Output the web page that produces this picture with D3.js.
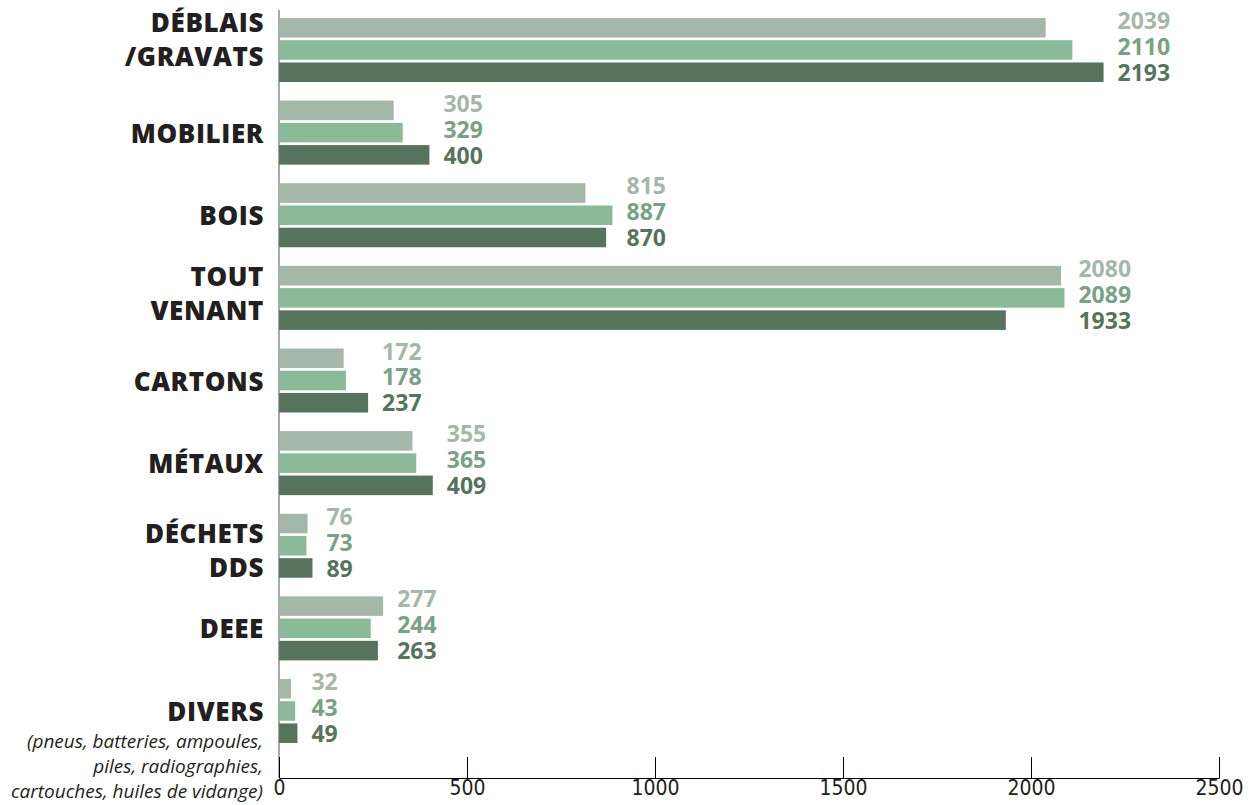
<!DOCTYPE html>
<html>
<head>
<meta charset="utf-8">
<script src="https://cdn.jsdelivr.net/npm/d3@7"></script>
<style>
  html, body { margin: 0; padding: 0; background: #fff; }
  svg { display: block; }
</style>
</head>
<body>
<svg id="chart" width="1253" height="805"></svg>
<script>
// ---- data ----
const categoryLines = [
  ["DÉBLAIS", "/GRAVATS"],
  ["MOBILIER"],
  ["BOIS"],
  ["TOUT", "VENANT"],
  ["CARTONS"],
  ["MÉTAUX"],
  ["DÉCHETS", "DDS"],
  ["DEEE"],
  ["DIVERS"]
];
const series1 = [2039, 305, 815, 2080, 172, 355, 76, 277, 32];
const series2 = [2110, 329, 887, 2089, 178, 365, 73, 244, 43];
const series3 = [2193, 400, 870, 1933, 237, 409, 89, 263, 49];
const tickValues = [0, 500, 1000, 1500, 2000, 2500];
const diversNote = ["(pneus, batteries, ampoules,", "piles, radiographies,", "cartouches, huiles de vidange)"];

// ---- styles / layout ----
const barColors = ["#a4b8aa", "#8aba97", "#56745c"];
const labelColors = ["#a4b8aa", "#78a286", "#56745c"];
const textColor = "#231f20";
const twoLineShift = { 0: -6, 3: 0, 6: 9 };

const svg = d3.select("#chart");
const seriesList = [series1, series2, series3];
const idx = d3.range(categoryLines.length);

const x = d3.scaleLinear().domain([0, 2500]).range([279, 1219]);
const y = d3.scaleBand().domain(idx).range([18, 743]).paddingInner(0.225).paddingOuter(0);
const ySub = d3.scaleBand().domain([0, 1, 2]).range([0, y.bandwidth()]).paddingInner(0.12);

// y axis line (grey)
svg.append("line")
  .attr("x1", x(0)).attr("x2", x(0))
  .attr("y1", 10).attr("y2", 778)
  .attr("stroke", "#8c8c8c").attr("stroke-width", 1.5);

// bars
const groups = svg.append("g").selectAll("g")
  .data(idx).join("g")
  .attr("transform", i => `translate(0,${y(i)})`);

groups.selectAll("rect")
  .data(i => seriesList.map((s, k) => ({ k, v: s[i] })))
  .join("rect")
  .attr("x", x(0))
  .attr("y", d => ySub(d.k))
  .attr("width", d => x(d.v) - x(0))
  .attr("height", ySub.bandwidth())
  .attr("fill", d => barColors[d.k]);

// value labels
const labelOffsets = [-30, -4, 22];
groups.each(function (i) {
  const g = d3.select(this);
  const maxV = d3.max(seriesList, s => s[i]);
  const cy = y.bandwidth() / 2;
  seriesList.forEach((s, k) => {
    g.append("text")
      .attr("x", x(maxV) + 14)
      .attr("y", cy + labelOffsets[k])
      .attr("dominant-baseline", "central")
      .attr("font-family", "'Open Sans', sans-serif")
      .attr("font-weight", 700)
      .attr("font-size", 23)
      .attr("fill", labelColors[k])
      .text(s[i]);
  });
});

// category labels
const catG = svg.append("g");
idx.forEach(i => {
  const lines = categoryLines[i];
  const cy = y(i) + y.bandwidth() / 2 + (twoLineShift[i] || 0);
  const starts = lines.length === 1 ? [0] : [-22, 12];
  lines.forEach((ln, j) => {
    catG.append("text")
      .attr("x", 264)
      .attr("y", cy + starts[j])
      .attr("dominant-baseline", "central")
      .attr("text-anchor", "end")
      .attr("font-family", "'Open Sans', sans-serif")
      .attr("font-weight", 800)
      .attr("font-size", 26)
      .attr("letter-spacing", 0.6)
      .attr("fill", textColor)
      .text(ln);
  });
});

// divers note
const lastCy = y(idx.length - 1) + y.bandwidth() / 2;
diversNote.forEach((ln, j) => {
  svg.append("text")
    .attr("x", 263)
    .attr("y", lastCy + 30 + j * 25)
    .attr("dominant-baseline", "central")
    .attr("text-anchor", "end")
    .attr("font-family", "'Open Sans', sans-serif")
    .attr("font-style", "italic")
    .attr("font-size", 19)
    .attr("fill", textColor)
    .text(ln);
});

// x axis
const xAxis = d3.axisBottom(x).tickValues(tickValues).tickSize(0).tickPadding(6).tickFormat(d3.format("d"));
const axG = svg.append("g").attr("transform", "translate(0,778)").call(xAxis);
axG.select(".domain").attr("stroke", "#000").attr("stroke-width", 1.2);
axG.selectAll(".tick line").remove();
axG.selectAll(".tick").append("line")
  .attr("y1", 0).attr("y2", -21)
  .attr("stroke", "#000").attr("stroke-width", 1);
axG.selectAll(".tick text")
  .attr("font-family", "'Liberation Sans Narrow', 'DejaVu Sans Condensed', sans-serif")
  .attr("font-size", 21)
  .attr("fill", textColor)
  .attr("dy", "0.5em");
</script>
</body>
</html>
